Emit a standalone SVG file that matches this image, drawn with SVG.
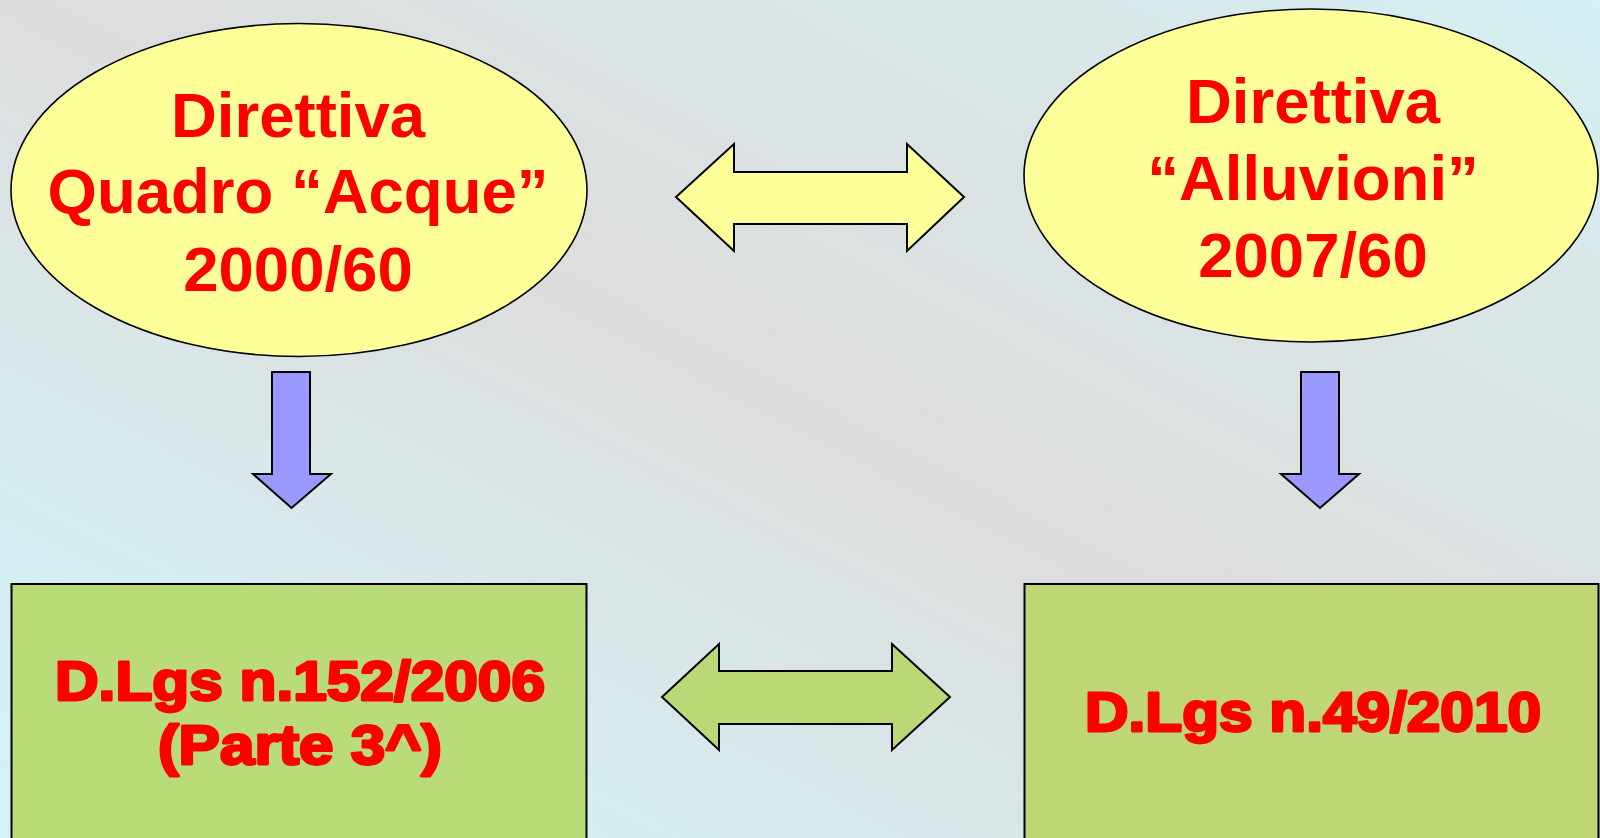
<svg xmlns="http://www.w3.org/2000/svg" width="1600" height="838" viewBox="0 0 1600 838">
  <defs>
    <linearGradient id="bg" x1="0" y1="1" x2="1" y2="0">
      <stop offset="0" stop-color="#d3f3f6"/>
      <stop offset="0.2" stop-color="#d6edf0"/>
      <stop offset="0.5" stop-color="#dddddd"/>
      <stop offset="0.8" stop-color="#d9e6e7"/>
      <stop offset="1" stop-color="#d4f1f4"/>
    </linearGradient>
  </defs>
  <style>
    .ell { fill: #ffff99; stroke: #000; stroke-width: 1.6; }
    .box { stroke: #000; stroke-width: 2; }
    .down { fill: #9999ff; stroke: #000; stroke-width: 2; stroke-linejoin: miter; }
    .dbl { stroke: #000; stroke-width: 2; stroke-linejoin: miter; }
    .t1 { font-family: "Liberation Sans", Arial, sans-serif; font-weight: bold; font-size: 63.5px; fill: #ff0000; text-anchor: middle; }
    .t2 { font-family: "Liberation Sans", Arial, sans-serif; font-weight: bold; font-size: 55px; fill: #ff0000; stroke: #ff0000; stroke-width: 2.8; stroke-linejoin: round; }
  </style>
  <rect x="0" y="0" width="1600" height="838" fill="url(#bg)"/>

  <g id="node-wfd">
    <ellipse class="ell" cx="299" cy="190" rx="288" ry="166.5"/>
    <text class="t1" x="298" y="137">Direttiva</text>
    <text class="t1" x="298" y="213">Quadro “Acque”</text>
    <text class="t1" x="298" y="291">2000/60</text>
  </g>

  <g id="node-floods">
    <ellipse class="ell" cx="1311" cy="175.5" rx="287" ry="166.5"/>
    <text class="t1" x="1313" y="123">Direttiva</text>
    <text class="t1" x="1313" y="200">“Alluvioni”</text>
    <text class="t1" x="1313" y="277">2007/60</text>
  </g>

  <g id="node-dlgs152">
    <rect class="box" x="11.5" y="584" width="575" height="270" fill="#badc78"/>
    <text class="t2" x="55" y="700" textLength="490" lengthAdjust="spacingAndGlyphs">D.Lgs n.152/2006</text>
    <text class="t2" x="158" y="764" textLength="284" lengthAdjust="spacingAndGlyphs">(Parte 3^)</text>
  </g>

  <g id="node-dlgs49">
    <rect class="box" x="1024.5" y="584" width="574" height="270" fill="#bed673"/>
    <text class="t2" x="1085" y="731" textLength="456" lengthAdjust="spacingAndGlyphs">D.Lgs n.49/2010</text>
  </g>

  <g id="connectors">
    <polygon class="dbl" fill="#ffff99" points="676,197 734,144 734,172 907,172 907,144 964,197 907,251 907,224 734,224 734,251"/>
    <polygon class="dbl" fill="#b9d977" points="662,697 719,644 719,671 892,671 892,644 950,697 892,750 892,724 719,724 719,750"/>
    <polygon class="down" points="272,372 310,372 310,474 331,474 291.5,508 253,474 272,474"/>
    <polygon class="down" points="1301,372 1339,372 1339,474 1359,474 1320,508 1281,474 1301,474"/>
  </g>
</svg>
